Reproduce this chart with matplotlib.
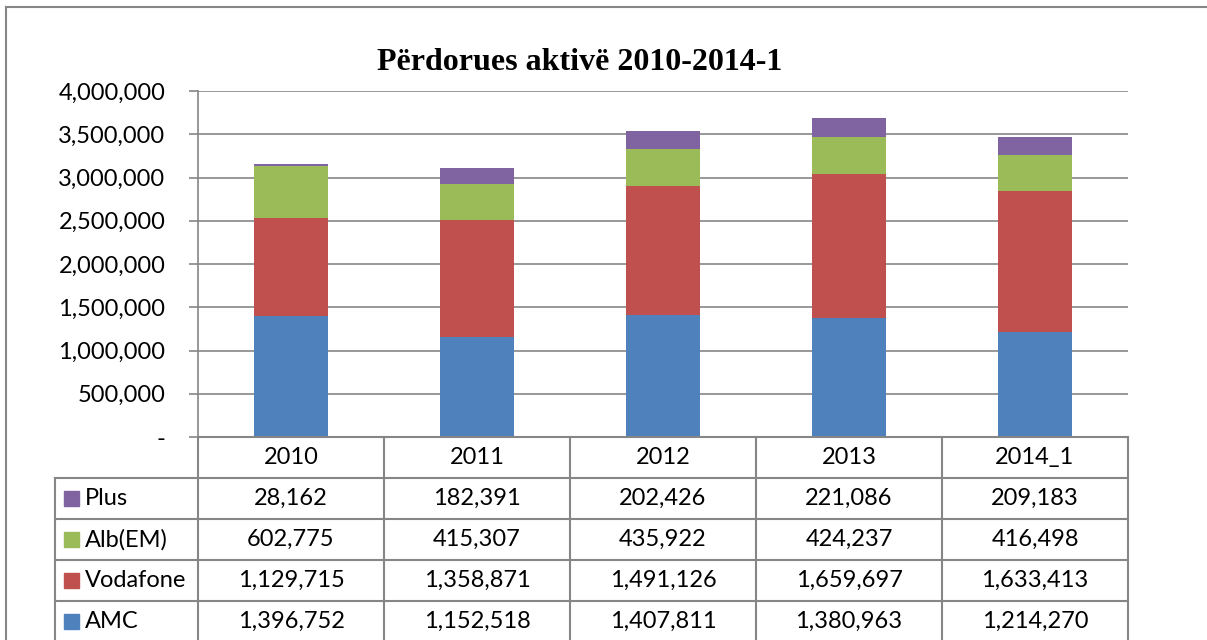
import numpy as np
import matplotlib.pyplot as plt
from matplotlib.ticker import FuncFormatter

vitet = ["2010", "2011", "2012", "2013", "2014_1"]
amc = [1396752, 1152518, 1407811, 1380963, 1214270]
vodafone = [1129715, 1358871, 1491126, 1659697, 1633413]
alb = [602775, 415307, 435922, 424237, 416498]
plus = [28162, 182391, 202426, 221086, 209183]

seri = [("AMC", amc, "#4F81BD"), ("Vodafone", vodafone, "#C0504D"),
        ("Alb(EM)", alb, "#9BBB59"), ("Plus", plus, "#8064A2")]

W, H = 1207, 640
gri = "#868686"
plt.rcParams['font.family'] = ['Lato', 'DejaVu Sans']

fig = plt.figure(figsize=(W / 100, H / 100), dpi=100)

def rect(x0, y0, x1, y1):
    # pixel (origjina lart-majtas) -> fraksion i figurës
    return [x0 / W, 1 - y1 / H, (x1 - x0) / W, (y1 - y0) / H]

# kornizë e jashtme
fig.add_artist(plt.Line2D([6 / W, 6 / W], [0, 1 - 7 / H], color=gri, lw=1.5))
fig.add_artist(plt.Line2D([6 / W, 1], [1 - 7 / H, 1 - 7 / H], color=gri, lw=1.5))

ax = fig.add_axes(rect(198, 91, 1128, 437))
x = np.arange(len(vitet))
baza = np.zeros(len(vitet))
for emri, vlera, ngjyra in seri:
    ax.bar(x, vlera, 0.40, bottom=baza, color=ngjyra, zorder=3)
    baza += np.array(vlera)

ax.set_xlim(-0.5, len(vitet) - 0.5)
ax.set_ylim(0, 4000000)
ax.set_yticks(np.arange(0, 4000001, 500000))
ax.yaxis.set_major_formatter(FuncFormatter(lambda v, p: "-" if v == 0 else f"{int(v):,}"))
ax.tick_params(axis='y', labelsize=17, length=6.5, color=gri, width=1.2, pad=17)
ax.set_xticks([])
ax.grid(axis='y', color=gri, lw=1.2, zorder=0)
for s in ["top", "right", "bottom"]:
    ax.spines[s].set_visible(False)
ax.spines["left"].set_color(gri)
ax.spines["left"].set_linewidth(1.2)

fig.text(580 / W, 1 - 63 / H, "Përdorues aktivë 2010-2014-1", ha='center', va='center',
         fontsize=23, fontweight='bold', family='Liberation Serif')

# tabela e të dhënave
rh = 41
lab_w = (198 - 55) / 186
tx = fig.add_axes(rect(55, 437, 1128, 640))
tx.set_xlim(-0.5 - lab_w, len(vitet) - 0.5)
tx.set_ylim((640 - 437) / rh, 0)
tx.axis('off')
lw = 1.5
n = len(vitet)
tx.plot([-0.5, n - 0.5], [0, 0], color=gri, lw=lw, clip_on=False)
for r in range(1, 5):
    tx.plot([-0.5 - lab_w, n - 0.5], [r, r], color=gri, lw=lw, clip_on=False)
for c in range(n + 1):
    tx.plot([c - 0.5, c - 0.5], [0, 6], color=gri, lw=lw, clip_on=False)
tx.plot([-0.5 - lab_w, -0.5 - lab_w], [1, 6], color=gri, lw=lw, clip_on=False)

for i, v in enumerate(vitet):
    tx.text(i, 0.5, v, ha='center', va='center', fontsize=17)
for r, (emri, vlera, ngjyra) in enumerate(reversed(seri)):
    yy = r + 1.5
    tx.add_patch(plt.Rectangle((-0.5 - lab_w + 9 / 186, yy - 7.5 / rh), 15 / 186, 15 / rh,
                               color=ngjyra, clip_on=False))
    tx.text(-0.5 - lab_w + 30 / 186, yy, emri, ha='left', va='center', fontsize=17)
    for i, v in enumerate(vlera):
        tx.text(i, yy, f"{v:,}", ha='center', va='center', fontsize=17)

fig.savefig("out.png", dpi=100)
